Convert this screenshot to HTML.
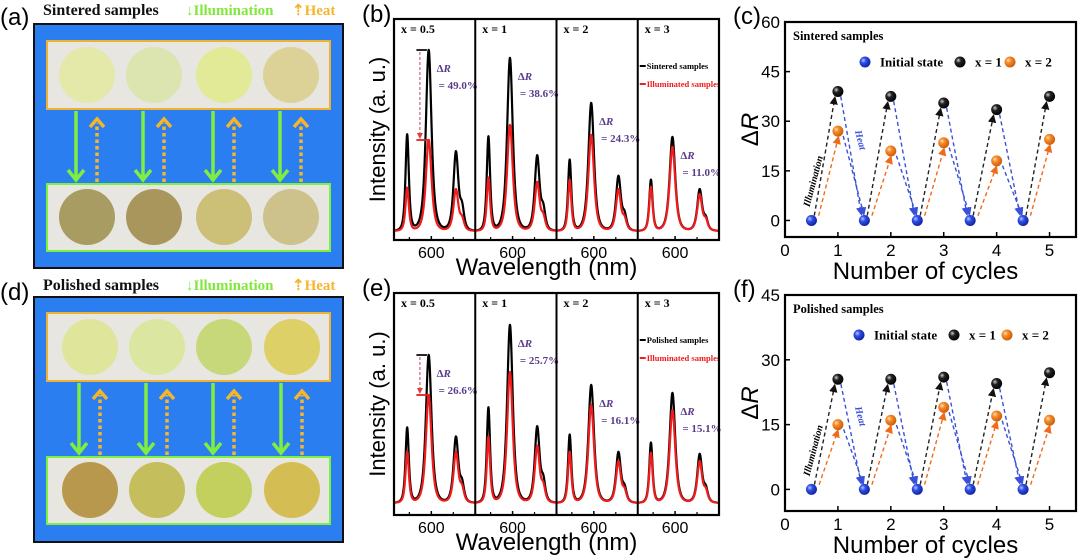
<!DOCTYPE html>
<html><head><meta charset="utf-8">
<style>
html,body{margin:0;padding:0;background:#fff;}
svg{display:block;}
.ser{font-family:"Liberation Serif",serif;font-weight:bold;}
.san{font-family:"Liberation Sans",sans-serif;}
</style></head>
<body>
<svg id="fig" width="1080" height="560" viewBox="0 0 1080 560" xmlns="http://www.w3.org/2000/svg">
<defs>
 <radialGradient id="gBlue" cx="0.35" cy="0.35" r="0.7"><stop offset="0" stop-color="#b8c8ff"/><stop offset="0.35" stop-color="#3050e8"/><stop offset="1" stop-color="#10209a"/></radialGradient>
 <radialGradient id="gBlack" cx="0.35" cy="0.35" r="0.7"><stop offset="0" stop-color="#d0d0d0"/><stop offset="0.35" stop-color="#222"/><stop offset="1" stop-color="#000"/></radialGradient>
 <radialGradient id="gOrange" cx="0.35" cy="0.35" r="0.7"><stop offset="0" stop-color="#ffe0b0"/><stop offset="0.35" stop-color="#f58a2a"/><stop offset="1" stop-color="#c85a08"/></radialGradient>
 <marker id="ahK" markerWidth="6" markerHeight="6" refX="5" refY="3" orient="auto"><path d="M0,0 L6,3 L0,6 z" fill="#111"/></marker>
 <marker id="ahO" markerWidth="6" markerHeight="6" refX="5" refY="3" orient="auto"><path d="M0,0 L6,3 L0,6 z" fill="#f06a1a"/></marker>
 <marker id="ahB" markerWidth="6" markerHeight="6" refX="5" refY="3" orient="auto"><path d="M0,0 L6,3 L0,6 z" fill="#3a50d8"/></marker>
 <marker id="ahR" markerWidth="6" markerHeight="6" refX="5" refY="3" orient="auto"><path d="M0,0 L6,3 L0,6 z" fill="#e04040"/></marker>
</defs>
<g id="photos"></g>
<g id="spectra"></g>
<g id="cycles"></g>
</svg>
<script>
// ---------- data: spectra peak intensities (545, 593, 655 nm) ----------
const bSubLabels = ["x = 0.5", "x = 1", "x = 2", "x = 3"];
const bBlack = [[96,181,78],[94,173,74],[71,128,54],[51,94,41]];
const bRed   = [[43,91,41],[53,106,48],[51,96,41],[44,84,36]];
const bDeltaR = ["= 49.0%", "= 38.6%", "= 24.3%", "= 11.0%"];
const eBlack = [[75,148,65],[95,178,75],[68,118,50],[60,110,48]];
const eRed   = [[51,108,50],[66,131,56],[51,98,41],[50,93,41]];
const eDeltaR = ["= 26.6%", "= 25.7%", "= 16.1%", "= 15.1%"];
const peakCenters = [545, 594, 656];
const wlTicks = [600];
// ---------- data: cycles ----------
const cycleX = [1,2,3,4,5];
const initX = [0.5,1.5,2.5,3.5,4.5];
const initVals = [0,0,0,0,0];
const cBlackVals = [39,37.5,35.5,33.5,37.5];
const cOrangeVals = [27,21,23.5,18,24.5];
const fBlackVals = [25.5,25.5,26,24.5,27];
const fOrangeVals = [15,16,19,17,16];
const cYTicks = [0,15,30,45,60];
const fYTicks = [0,15,30,45];
const xTicks = [0,1,2,3,4,5];

const NS = "http://www.w3.org/2000/svg";
function mk(parent, tag, attrs, text){
  const e = document.createElementNS(NS, tag);
  for (const k in attrs) e.setAttribute(k, attrs[k]);
  if (text !== undefined) e.textContent = text;
  parent.appendChild(e);
  return e;
}
const photos = document.getElementById('photos');
const spectra = document.getElementById('spectra');
const cycles = document.getElementById('cycles');

// ---------- photo panels (a),(d) ----------
function photoPanel(title, letter, topCols, botCols, geo){
  let t = mk(photos,'text',{x:0,y:geo.labY,class:'san','font-size':24});
  t.textContent = letter;
  
  
  t = mk(photos,'text',{x:43,y:geo.titleY,class:'ser','font-size':16,fill:'#111'}, title);
  
  
  t = mk(photos,'text',{x:186,y:geo.titleY,class:'ser','font-size':15,fill:'#80e83a'}, '↓Illumination');
  
  
  t = mk(photos,'text',{x:292,y:geo.titleY,class:'ser','font-size':15,fill:'#f5b52d'}, '⇡Heat');
  
  
  let r = mk(photos,'rect',{x:34,y:geo.boxY,width:309,height:geo.boxH,fill:'#2a7ef0',stroke:'#111','stroke-width':2});
  
  
  r = mk(photos,'rect',{x:47,y:geo.topY,width:283,height:68,fill:'#e8e6e0',stroke:'#f0b030','stroke-width':2});
  
  
  r = mk(photos,'rect',{x:47,y:geo.botY,width:283,height:67,fill:'#e8e6e0',stroke:'#7ef040','stroke-width':2});
  
  
  const cx = geo.cx;
  for (let i=0;i<4;i++){
    let c = mk(photos,'circle',{cx:cx[i],cy:geo.topY+34,r:28,fill:topCols[i]});
    
    
    c = mk(photos,'circle',{cx:cx[i],cy:geo.botY+33,r:28,fill:botCols[i]});
    
    
    const gx = cx[i]-11, hx = cx[i]+10;
    let a = mk(photos,'path',{d:`M${gx},${geo.topY+70} L${gx},${geo.botY-5} M${gx-8},${geo.botY-14} L${gx},${geo.botY-4} L${gx+8},${geo.botY-14}`,stroke:'#80ee40','stroke-width':3.5,fill:'none'});
    
    
    a = mk(photos,'path',{d:`M${hx},${geo.botY-2} L${hx},${geo.topY+82}`,stroke:'#f5b52d','stroke-width':3.5,'stroke-dasharray':'3.5,3',fill:'none'});
    
    
    a = mk(photos,'path',{d:`M${hx-7},${geo.topY+86} L${hx},${geo.topY+78} L${hx+7},${geo.topY+86}`,stroke:'#f5b52d','stroke-width':3.5,fill:'none'});
    
    
  }
}
photoPanel('Sintered samples','(a)',
  ['#e4e8a8','#dce4b0','#e2ea98','#dcd298'],
  ['#a89c62','#a8965c','#ccc078','#cdc28c'],
  {labY:25,titleY:15,boxY:24,boxH:244,topY:41,botY:184,cx:[87,154,224,291]});
photoPanel('Polished samples','(d)',
  ['#dfe69c','#dbe6a0','#c6d87a','#dcd066'],
  ['#b8984c','#c4be5c','#c4d05e','#d4be54'],
  {labY:300,titleY:290,boxY:297,boxH:245,topY:313,botY:457,cx:[90,157,224,292]});

// ---------- spectra panels (b),(e) ----------
function spec(x, heights){
  const w = [6.5,11,9.5];
  let v = 0;
  for (let k=0;k<3;k++){
    const d = (x-peakCenters[k])/w[k];
    v += heights[k]/Math.pow(1+d*d,1.8);
  }
  const ds = (x-670)/8;
  v += heights[2]*0.25/Math.pow(1+ds*ds,1.8);
  return v;
}
function spectraPanel(P){
  let t = mk(spectra,'text',{x:362,y:P.top+3,class:'san','font-size':24}, P.letter);
  
  
  const subW = (P.right-P.left)/4;
  const wl0 = 515, wl1 = 700;
  for (let s=0;s<4;s++){
    const x0 = P.left + s*subW;
    const xs = wl => x0 + (wl-wl0)/(wl1-wl0)*subW;
    const ys = v => P.base - v*P.k;
    const drawLine = (hs, col, name) => {
      let d = '';
      for (let wl=wl0; wl<=wl1; wl+=0.5){
        d += (wl===wl0?'M':'L') + xs(wl).toFixed(2) + ',' + ys(spec(wl,hs)).toFixed(2);
      }
      const p = mk(spectra,'path',{d:d,fill:'none',stroke:col,'stroke-width':2.2,'stroke-linejoin':'round'});
      
      
    };
    drawLine(P.black[s], '#000', 'spectrum-initial-'+(s+1));
    drawLine(P.red[s], '#ee1c1c', 'spectrum-illuminated-'+(s+1));
    for (const tk of wlTicks){
      let l = mk(spectra,'line',{x1:xs(tk),x2:xs(tk),y1:P.bottom,y2:P.bottom-4,stroke:'#000','stroke-width':1.5});
      
      
      let tt = mk(spectra,'text',{x:xs(tk),y:P.bottom+18,'text-anchor':'middle',class:'san','font-size':16}, String(tk));
      
      
    }
    for (const tk of [550,650]){
      let l = mk(spectra,'line',{x1:xs(tk),x2:xs(tk),y1:P.bottom,y2:P.bottom-3,stroke:'#000','stroke-width':1.2});
      
      
    }
    let lb = mk(spectra,'text',{x:x0+7,y:P.top+14,class:'ser','font-size':12}, bSubLabels[s]);
    
    
    const peakY = ys(P.black[s][1]);
    const tx = xs(612), ty = Math.max(peakY+22, P.top+52);
    let d1 = mk(spectra,'text',{x:tx,y:ty,class:'ser','font-size':11,fill:'#5a3c8c'});
    d1.innerHTML = '<tspan font-style="normal">Δ</tspan><tspan font-style="italic">R</tspan>';
    
    
    let d2 = mk(spectra,'text',{x:tx+2,y:ty+17,class:'ser','font-size':11,fill:'#5a3c8c'}, P.delta[s]);
    
    
    if (s>0){
      let dv = mk(spectra,'line',{x1:x0,x2:x0,y1:P.top,y2:P.bottom,stroke:'#000','stroke-width':2});
      
      
    }
    if (s===0){
      const yb = ys(P.black[0][1]), yr = ys(P.red[0][1]);
      let m = mk(spectra,'line',{x1:xs(566),x2:xs(590),y1:yb,y2:yb,stroke:'#111','stroke-width':1.8});
      
      
      m = mk(spectra,'line',{x1:xs(566),x2:xs(592),y1:yr,y2:yr,stroke:'#e02020','stroke-width':1.8});
      
      
      m = mk(spectra,'line',{x1:xs(574),x2:xs(574),y1:yb+2,y2:yr-2,stroke:'#d04060','stroke-width':1,'stroke-dasharray':'3,2','marker-end':'url(#ahR)'});
      
      
    }
    if (s===3){
      let l1 = mk(spectra,'line',{x1:x0+2,x2:x0+8,y1:P.top+47,y2:P.top+47,stroke:'#000','stroke-width':2});
      
      
      let t1 = mk(spectra,'text',{x:x0+9,y:P.top+50,class:'ser','font-size':8.5}, P.legend);
      
      
      let l2 = mk(spectra,'line',{x1:x0+2,x2:x0+8,y1:P.top+65,y2:P.top+65,stroke:'#ee1c1c','stroke-width':2});
      
      
      let t2 = mk(spectra,'text',{x:x0+9,y:P.top+68,class:'ser','font-size':8.5,fill:'#ee1c1c'}, 'Illuminated samples');
      
      
    }
  }
  let fr = mk(spectra,'rect',{x:P.left,y:P.top,width:P.right-P.left,height:P.bottom-P.top,fill:'none',stroke:'#000','stroke-width':2.2});
  
  
  let yl = mk(spectra,'text',{x:0,y:0,transform:`translate(385,${(P.top+P.bottom)/2}) rotate(-90)`,'text-anchor':'middle',class:'san','font-size':22}, 'Intensity (a. u.)');
  
  
  let xl = mk(spectra,'text',{x:(P.left+P.right)/2 - 10,y:P.bottom+35,'text-anchor':'middle',class:'san','font-size':24}, 'Wavelength (nm)');
  
  
}
spectraPanel({letter:'(b)',left:394,right:719,top:19,bottom:240,base:231,k:1,black:bBlack,red:bRed,delta:bDeltaR,legend:'Sintered samples'});
spectraPanel({letter:'(e)',left:394,right:719,top:293,bottom:515,base:503,k:1,black:eBlack,red:eRed,delta:eDeltaR,legend:'Polished samples'});

// ---------- cycle panels (c),(f) ----------
function cyclePanel(P){
  const xs = v => P.left + (v-0)/(5.5-0)*(P.right-P.left);
  const ys = v => P.bottom - (v-P.ymin)/(P.ymax-P.ymin)*(P.bottom-P.top);
  let t = mk(cycles,'text',{x:733,y:P.top+2,class:'san','font-size':24}, P.letter);
  
  
  for (const tk of P.yticks){
    let l = mk(cycles,'line',{x1:P.left,x2:P.left+5,y1:ys(tk),y2:ys(tk),stroke:'#000','stroke-width':1.5});
    
    
    let tt = mk(cycles,'text',{x:P.left-5,y:ys(tk)+6,'text-anchor':'end',class:'san','font-size':17}, String(tk));
    
    
  }
  for (const tk of xTicks){
    let l = mk(cycles,'line',{x1:xs(tk),x2:xs(tk),y1:P.bottom,y2:P.bottom-5,stroke:'#000','stroke-width':1.5});
    
    
    let tt = mk(cycles,'text',{x:xs(tk),y:P.bottom+19,'text-anchor':'middle',class:'san','font-size':17}, String(tk));
    
    
  }
  const ar = (x1,y1,x2,y2,col,mark,name) => {
    const dx=x2-x1, dy=y2-y1, L=Math.hypot(dx,dy);
    const l = mk(cycles,'line',{x1:x1+dx/L*5,y1:y1+dy/L*5,x2:x2-dx/L*6,y2:y2-dy/L*6,stroke:col,'stroke-width':1.4,'stroke-dasharray':'4,3','marker-end':`url(#${mark})`});
    
    
  };
  for (let i=0;i<cycleX.length;i++){
    const bx = xs(initX[i]), by = ys(initVals[i]);
    ar(bx+2,by,xs(cycleX[i])-2,ys(P.black[i]),'#222','ahK','illumination-arrow-x1');
    ar(bx+6,by,xs(cycleX[i])+2,ys(P.orange[i]),'#f06a1a','ahO','illumination-arrow-x2');
    if (i<cycleX.length-1){
      const nx = xs(initX[i+1]), ny = ys(initVals[i+1]);
      ar(xs(cycleX[i])+2,ys(P.black[i]),nx-2,ny,'#3a50d8','ahB','heat-arrow-x1');
      ar(xs(cycleX[i])+4,ys(P.orange[i]),nx+1,ny,'#3a50d8','ahB','heat-arrow-x2');
    }
  }
  const dot = (x,y,g,name) => {
    const c = mk(cycles,'circle',{cx:x,cy:y,r:5.5,fill:`url(#${g})`});
    
    
  };
  for (let i=0;i<initX.length;i++) dot(xs(initX[i]),ys(initVals[i]),'gBlue','point-initial');
  for (let i=0;i<cycleX.length;i++) dot(xs(cycleX[i]),ys(P.black[i]),'gBlack','point-x1');
  for (let i=0;i<cycleX.length;i++) dot(xs(cycleX[i]),ys(P.orange[i]),'gOrange','point-x2');
  let tl = mk(cycles,'text',{x:P.left+8,y:P.top+18,class:'ser','font-size':12.5}, P.title);
  
  
  const ly = P.top+40;
  const legs = [[P.lx[0],'gBlue','Initial state'],[P.lx[1],'gBlack','x = 1'],[P.lx[2],'gOrange','x = 2']];
  for (const [lx,g,lab] of legs){
    dot(lx,ly,g,'legend-marker');
    let lt = mk(cycles,'text',{x:lx+15,y:ly+4.5,class:'ser','font-size':13}, lab);
    
    
  }
  let il = mk(cycles,'text',{x:0,y:0,transform:`translate(${xs(0.5)-2},${ys(P.ilY)}) rotate(-75)`,class:'ser','font-size':10,'font-style':'italic'}, 'Illumination');
  
  
  let ht = mk(cycles,'text',{x:0,y:0,transform:`translate(${xs(1.32)},${ys(P.htY)}) rotate(75)`,class:'ser','font-size':10,'font-style':'italic',fill:'#3a50d8'}, 'Heat');
  
  
  let fr = mk(cycles,'rect',{x:P.left,y:P.top,width:P.right-P.left,height:P.bottom-P.top,fill:'none',stroke:'#000','stroke-width':2.2});
  
  
  let yl = mk(cycles,'text',{x:0,y:0,transform:`translate(758,${(P.top+P.bottom)/2}) rotate(-90)`,'text-anchor':'middle',class:'san','font-size':24});
  yl.innerHTML = 'Δ<tspan font-style="italic">R</tspan>';
  
  
  let xl = mk(cycles,'text',{x:(P.left+P.right)/2 - 5,y:P.bottom+42,'text-anchor':'middle',class:'san','font-size':24}, 'Number of cycles');
  
  
}
cyclePanel({letter:'(c)',left:785,right:1076,top:22,bottom:237,ymin:-5,ymax:60,yticks:cYTicks,black:cBlackVals,orange:cOrangeVals,title:'Sintered samples',lx:[865,960,1010],ilY:4,htY:27});
cyclePanel({letter:'(f)',left:785,right:1076,top:295,bottom:511,ymin:-5,ymax:45,yticks:fYTicks,black:fBlackVals,orange:fOrangeVals,title:'Polished samples',lx:[859,954,1007],ilY:3,htY:19});
</script>
</body></html>
